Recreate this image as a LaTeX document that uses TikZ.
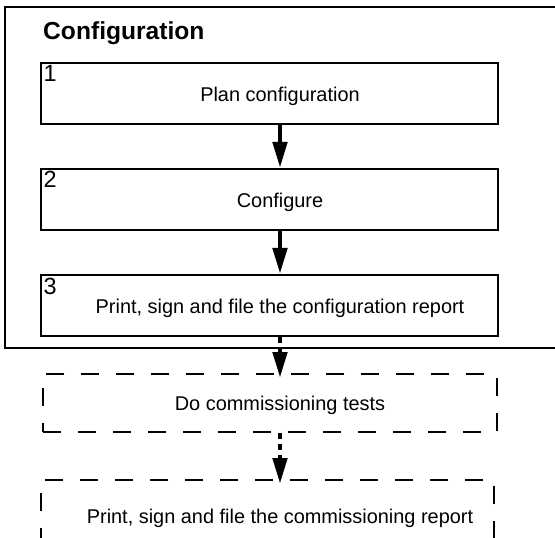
\documentclass[tikz,border=0pt]{standalone}
\usepackage{fontspec}
\setmainfont{Liberation Sans}
\usepackage{tikz}
\usetikzlibrary{arrows.meta,positioning}

\begin{document}
\begin{tikzpicture}[
    font=\fontsize{17pt}{20pt}\selectfont,
    frame/.style={draw, line width=0.06cm, minimum width=17.85cm, minimum height=10.23cm, inner sep=0pt},
    stepbox/.style={draw, line width=0.06cm, minimum width=13.71cm, minimum height=1.83cm, inner sep=0pt},
    laterbox/.style={stepbox, dash pattern=on 0.54cm off 0.51cm},
    num/.style={anchor=base west, inner sep=0pt, font=\fontsize{20pt}{24pt}\selectfont},
    steptext/.style={inner sep=0pt, yshift=-0.08cm},
    arrow/.style={-{Triangle[length=0.78cm, width=0.42cm]}, line width=0.14cm},
    dasharrow/.style={arrow, dash pattern=on 0.18cm off 0.15cm, shorten >=-0.15cm}
  ]
    \useasboundingbox (0,0) rectangle (16.65,-16.14);
    \clip (0,0) rectangle (16.65,-16.14);
    \coordinate (axis) at (8.4,0);

    \node[frame] (cfgframe) at (9.075,-5.325) {};
    \node[num, font=\fontsize{21pt}{25pt}\selectfont\bfseries] (title) at (1.29,-1.2) {Configuration};

    \node[stepbox] (plan) at (8.085,-2.805) {};
    \node[stepbox] (configure) at (8.085,-5.985) {};
    \node[stepbox] (report) at (8.085,-9.165) {};
    \node[laterbox, minimum width=13.62cm, minimum height=1.74cm] (tests) at (8.1,-12.09) {};
    \node[laterbox, minimum width=13.59cm] (commreport) at (8.025,-15.315) {};

    \node[num] (n1) at ([xshift=0.1cm, yshift=-0.6cm]plan.north west) {1};
    \node[num] (n2) at ([xshift=0.1cm, yshift=-0.6cm]configure.north west) {2};
    \node[num] (n3) at ([xshift=0.1cm, yshift=-0.6cm]report.north west) {3};

    \node[steptext] (plantext) at (plan.center -| axis) {Plan configuration};
    \node[steptext] (configuretext) at (configure.center -| axis) {Configure};
    \node[steptext] (reporttext) at (report.center -| axis) {Print, sign and file the configuration report};
    \node[steptext] (teststext) at (tests.center -| axis) {Do commissioning tests};
    \node[steptext, yshift=-0.15cm] (commreporttext) at (commreport.center -| axis) {Print, sign and file the commissioning report};

    \draw[arrow] (plan.south -| axis) -- (configure.north -| axis);
    \draw[arrow] (configure.south -| axis) -- (report.north -| axis);
    \draw[dasharrow] (report.south -| axis) -- (tests.north -| axis);
    \draw[dasharrow] (tests.south -| axis) -- (commreport.north -| axis);
  \end{tikzpicture}
\end{document}
